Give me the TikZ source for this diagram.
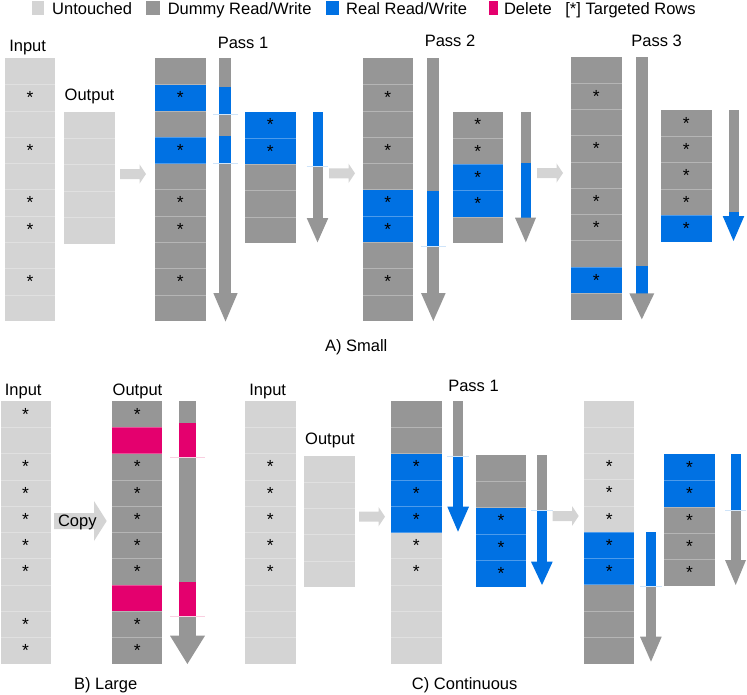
\documentclass[tikz,border=0pt]{standalone}
\usepackage{fontspec}
\setmainfont{Liberation Sans}
\usepackage{tikz}
\definecolor{cUnt}{HTML}{D4D4D4}
\definecolor{cDum}{HTML}{969696}
\definecolor{cReal}{HTML}{0071E3}
\definecolor{cDel}{HTML}{E4006E}
\definecolor{cRlt}{HTML}{CFE4F9}
\definecolor{cDlt}{HTML}{F9CFE0}

\begin{document}
\begin{tikzpicture}[x=1pt,y=-1pt,
        lbl/.style={font=\fontsize{16.5}{19}\selectfont,inner sep=0pt,anchor=base},
        ast/.style={font=\fontsize{17.5}{18}\selectfont,inner sep=0pt},
        sep/.style={white,opacity=0.3,line width=0.7pt},
        cutln/.style={line width=0.6pt}]
        \useasboundingbox (0,0) rectangle (747,694);
        % legend
        \fill[cUnt] (31.7,0.5) rectangle (44.3,14.5);
        \node[lbl,anchor=base west] (lgunt) at (52,14) {Untouched};
        \fill[cDum] (146,0.5) rectangle (159.5,14.5);
        \node[lbl,anchor=base west] (lgdum) at (167.6,14) {Dummy Read/Write};
        \fill[cReal] (325.5,0.5) rectangle (339,14.5);
        \node[lbl,anchor=base west] (lgreal) at (346,14) {Real Read/Write};
        \fill[cDel] (488.5,0.5) rectangle (498,14.5);
        \node[lbl,anchor=base west] (lgdel) at (503.8,14) {Delete};
        \node[lbl,anchor=base west] (lgtgt) at (565.2,14) {[*] Targeted Rows};
        % light flow arrows
        \foreach \x/\y in {120/174,329/173.3,537/173,359/516.7,552.7/516}
        \fill[cUnt] (\x,\y-5) -- ++(19.5,0) -- ++(0,-4.7) -- ++(6.5,9.7) -- ++(-6.5,9.7) -- ++(0,-4.7) -- (\x,\y+5) -- cycle;

        % A) Small
        \node[lbl] (inalbl) at (27.6,51.7) {Input};
        \fill[cUnt] (5,58.3) rectangle ++(50,263);
        \foreach \i in {1,...,9} \draw[sep] (5,58.3+26.3*\i) -- ++(50,0);
        \foreach \i in {1,3,5,6,8} \node[ast] (ina\i) at (30,71.45+26.3*\i) {*};
        \node[lbl] (outalbl) at (89.5,100) {Output};
        \fill[cUnt] (64,112) rectangle ++(50.5,131.5);
        \foreach \i in {1,...,4} \draw[sep] (64,112+26.3*\i) -- ++(50.5,0);

        \node[lbl] (pass1a) at (243,48.3) {Pass 1};
        \foreach \f [count=\i from 0] in {cDum,cReal,cDum,cReal,cDum,cDum,cDum,cDum,cDum,cDum}
        \fill[\f] (155,58.3+26.3*\i) rectangle ++(50.5,26.3);
        \foreach \i in {1,...,9} \draw[sep] (155,58.3+26.3*\i) -- ++(50.5,0);
        \foreach \i in {1,3,5,6,8} \node[ast] (pa\i) at (180.2,71.45+26.3*\i) {*};
        \foreach \c/\a/\b in {cDum/58.3/87.3,cReal/87.3/115,cDum/115/135.7,cReal/135.7/163.3,cDum/163.3/293.5}
        \fill[\c] (219.3,\a) rectangle (231,\b);
        \fill[cDum] (213.3,293) -- (237.7,293) -- (225.5,321.5) -- cycle;
        \draw[cutln,cRlt] (213.3,114.5) -- ++(24.4,0) (213.3,163.3) -- ++(24.4,0);
        \foreach \f [count=\i from 0] in {cReal,cReal,cDum,cDum,cDum}
        \fill[\f] (245,111.7+26.3*\i) rectangle ++(50.5,26.3);
        \foreach \i in {1,...,4} \draw[sep] (245,111.7+26.3*\i) -- ++(50.5,0);
        \foreach \i in {0,1} \node[ast] (pb\i) at (270.2,124.85+26.3*\i) {*};
        \foreach \c/\a/\b in {cReal/111.7/166,cDum/166/218.5}
        \fill[\c] (312.7,\a) rectangle (322.7,\b);
        \fill[cDum] (306.7,218) -- (328.3,218) -- (317.5,242.3) -- cycle;
        \draw[cutln,cRlt] (306.7,166) -- ++(21.6,0);

        \node[lbl] (pass2a) at (450,46.7) {Pass 2};
        \foreach \f [count=\i from 0] in {cDum,cDum,cDum,cDum,cDum,cReal,cReal,cDum,cDum,cDum}
        \fill[\f] (362.5,58.3+26.3*\i) rectangle ++(50.5,26.3);
        \foreach \i in {1,...,9} \draw[sep] (362.5,58.3+26.3*\i) -- ++(50.5,0);
        \foreach \i in {1,3,5,6,8} \node[ast] (qa\i) at (387.7,71.45+26.3*\i) {*};
        \foreach \c/\a/\b in {cDum/58.3/190.7,cReal/190.7/246,cDum/246/293.5}
        \fill[\c] (427.3,\a) rectangle (439.3,\b);
        \fill[cDum] (421,293) -- (445.7,293) -- (433.3,321) -- cycle;
        \draw[cutln,cRlt] (420.7,246) -- ++(25.3,0);
        \foreach \f [count=\i from 0] in {cDum,cDum,cReal,cReal,cDum}
        \fill[\f] (452.5,111.7+26.3*\i) rectangle ++(50.5,26.3);
        \foreach \i in {1,...,4} \draw[sep] (452.5,111.7+26.3*\i) -- ++(50.5,0);
        \foreach \i in {0,...,3} \node[ast] (qb\i) at (477.7,124.85+26.3*\i) {*};
        \foreach \c/\a/\b in {cDum/111.7/163.3,cReal/163.3/218}
        \fill[\c] (520.7,\a) rectangle (531,\b);
        \fill[cDum] (515,217.7) -- (536,217.7) -- (525.8,242.3) -- cycle;

        \node[lbl] (pass3a) at (656.7,46.7) {Pass 3};
        \foreach \f [count=\i from 0] in {cDum,cDum,cDum,cDum,cDum,cDum,cDum,cDum,cReal,cDum}
        \fill[\f] (571,56.7+26.3*\i) rectangle ++(50.5,26.3);
        \foreach \i in {1,...,9} \draw[sep] (571,56.7+26.3*\i) -- ++(50.5,0);
        \foreach \i in {1,3,5,6,8} \node[ast] (ra\i) at (596.2,69.85+26.3*\i) {*};
        \foreach \c/\a/\b in {cDum/56.7/266,cReal/266/293.6}
        \fill[\c] (636,\a) rectangle (647.7,\b);
        \fill[cDum] (629.3,293.3) -- (654.3,293.3) -- (641.8,319.3) -- cycle;
        \foreach \f [count=\i from 0] in {cDum,cDum,cDum,cDum,cReal}
        \fill[\f] (661,110+26.3*\i) rectangle ++(50.5,26.3);
        \foreach \i in {1,...,4} \draw[sep] (661,110+26.3*\i) -- ++(50.5,0);
        \foreach \i in {0,...,4} \node[ast] (rb\i) at (686.2,123.15+26.3*\i) {*};
        \foreach \c/\a/\b in {cDum/110/211.7,cReal/211.7/216.3}
        \fill[\c] (729,\a) rectangle (739,\b);
        \fill[cReal] (722.7,216) -- (744.3,216) -- (733.5,241) -- cycle;
        \node[lbl] (capa) at (356.2,351) {A) Small};

        % B) Large
        \node[lbl] (inblbl) at (23.2,395) {Input};
        \fill[cUnt] (0.5,401) rectangle ++(50.2,263);
        \foreach \i in {1,...,9} \draw[sep] (0.5,401+26.3*\i) -- ++(50.2,0);
        \foreach \i in {0,2,3,4,5,6,8,9} \node[ast] (inb\i) at (25.6,414.15+26.3*\i) {*};
        \fill[cUnt] (54,513) -- (94,513) -- (94,501) -- (106.7,521) -- (94,541) -- (94,529) -- (54,529) -- cycle;
        \node[lbl] (copy) at (77.3,526) {Copy};
        \node[lbl] (outblbl) at (137.5,395) {Output};
        \foreach \f [count=\i from 0] in {cDum,cDel,cDum,cDum,cDum,cDum,cDum,cDel,cDum,cDum}
        \fill[\f] (112.3,401+26.3*\i) rectangle ++(50,26.3);
        \foreach \i in {1,...,9} \draw[sep] (112.3,401+26.3*\i) -- ++(50,0);
        \foreach \i in {0,2,3,4,5,6,8,9} \node[ast] (outb\i) at (137.3,414.15+26.3*\i) {*};
        \foreach \c/\a/\b in {cDum/401/423.3,cDel/423.3/457.7,cDum/457.7/581.7,cDel/581.7/616,cDum/616/636}
        \fill[\c] (179,\a) rectangle (195.7,\b);
        \fill[cDum] (170,635.7) -- (205,635.7) -- (187.4,664) -- cycle;
        \draw[cutln,cDlt] (170,457.7) -- ++(35,0) (170,616) -- ++(35,0);
        \node[lbl] (capb) at (105.7,689.3) {B) Large};

        % C) Continuous
        \node[lbl] (inclbl) at (267.7,395) {Input};
        \fill[cUnt] (245,401) rectangle ++(50.5,263);
        \foreach \i in {1,...,9} \draw[sep] (245,401+26.3*\i) -- ++(50.5,0);
        \foreach \i in {2,...,6} \node[ast] (inc\i) at (270.2,414.15+26.3*\i) {*};
        \node[lbl] (outclbl) at (330,444) {Output};
        \fill[cUnt] (304,455.7) rectangle ++(51,131.5);
        \foreach \i in {1,...,4} \draw[sep] (304,455.7+26.3*\i) -- ++(51,0);

        \node[lbl] (pass1c) at (473.5,391.7) {Pass 1};
        \foreach \f [count=\i from 0] in {cDum,cDum,cReal,cReal,cReal,cUnt,cUnt,cUnt,cUnt,cUnt}
        \fill[\f] (391,401+26.3*\i) rectangle ++(50.7,26.3);
        \foreach \i in {1,...,9} \draw[sep] (391,401+26.3*\i) -- ++(50.7,0);
        \foreach \i in {2,...,6} \node[ast] (pc\i) at (416.3,414.15+26.3*\i) {*};
        \foreach \c/\a/\b in {cDum/401/456,cReal/456/507}
        \fill[\c] (452.7,\a) rectangle (463.3,\b);
        \fill[cReal] (447.3,506.7) -- (469,506.7) -- (458,531.7) -- cycle;
        \draw[cutln,cRlt] (447.3,456) -- ++(21.7,0);
        \foreach \f [count=\i from 0] in {cDum,cDum,cReal,cReal,cReal}
        \fill[\f] (475.7,455+26.3*\i) rectangle ++(50.5,26.3);
        \foreach \i in {1,...,4} \draw[sep] (475.7,455+26.3*\i) -- ++(50.5,0);
        \foreach \i in {2,3,4} \node[ast] (pd\i) at (500.9,468.15+26.3*\i) {*};
        \foreach \c/\a/\b in {cDum/455/510,cReal/510/562}
        \fill[\c] (536.7,\a) rectangle (547.3,\b);
        \fill[cReal] (531,561.7) -- (552.7,561.7) -- (542,585) -- cycle;
        \draw[cutln,cRlt] (531,510) -- ++(21.7,0);

        \foreach \f [count=\i from 0] in {cUnt,cUnt,cUnt,cUnt,cUnt,cReal,cReal,cDum,cDum,cDum}
        \fill[\f] (584,400.7+26.3*\i) rectangle ++(50.3,26.3);
        \foreach \i in {1,...,9} \draw[sep] (584,400.7+26.3*\i) -- ++(50.3,0);
        \foreach \i in {2,...,6} \node[ast] (qc\i) at (609.2,413.85+26.3*\i) {*};
        \foreach \c/\a/\b in {cReal/531.7/586.7,cDum/586.7/637}
        \fill[\c] (646,\a) rectangle (656,\b);
        \fill[cDum] (640,636.7) -- (661.7,636.7) -- (651,661.7) -- cycle;
        \draw[cutln,cRlt] (640,586.7) -- ++(21.7,0);
        \foreach \f [count=\i from 0] in {cReal,cReal,cDum,cDum,cDum}
        \fill[\f] (664,454.3+26.3*\i) rectangle ++(51,26.3);
        \foreach \i in {1,...,4} \draw[sep] (664,454.3+26.3*\i) -- ++(51,0);
        \foreach \i in {0,...,4} \node[ast] (qd\i) at (689.5,467.45+26.3*\i) {*};
        \foreach \c/\a/\b in {cReal/454.3/510,cDum/510/560.3}
        \fill[\c] (730.7,\a) rectangle (740.7,\b);
        \fill[cDum] (725,560) -- (746,560) -- (735.7,585) -- cycle;
        \draw[cutln,cRlt] (725,510) -- ++(21,0);
        \node[lbl] (capc) at (464.7,689) {C) Continuous};
\end{tikzpicture}
\end{document}
